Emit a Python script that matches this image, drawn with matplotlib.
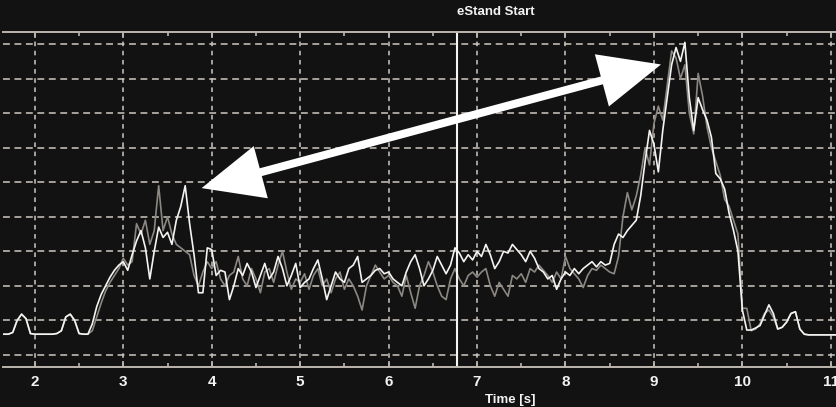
import numpy as np
import matplotlib
matplotlib.use("Agg")
import matplotlib.pyplot as plt
from matplotlib.patches import FancyArrowPatch
from matplotlib.ticker import MultipleLocator

# ---- data (sampled every 0.05 s starting at 1.65 s) ----
t_start = 1.65
dt = 0.05

white_trace = [
    0.60, 0.60, 0.65, 1.00, 1.18, 1.05, 0.62, 0.60, 0.60, 0.60,
    0.60, 0.60, 0.62, 0.70, 1.10, 1.18, 1.00, 0.62, 0.60, 0.60,
    0.90, 1.40, 1.75, 2.00, 2.25, 2.45, 2.60, 2.70, 2.45, 2.90,
    3.30, 3.60, 3.10, 2.20, 3.00, 3.70, 3.40, 3.55, 3.20, 3.90,
    4.30, 4.90, 3.80, 2.90, 1.80, 1.80, 3.10, 3.05, 2.30, 2.45,
    2.40, 1.60, 2.00, 2.50, 2.30, 2.65, 2.40, 1.95, 2.30, 2.65,
    2.20, 2.40, 2.85, 2.50, 2.00, 2.30, 2.65, 1.95, 2.10, 2.20,
    2.50, 2.75, 2.20, 1.60, 2.00, 2.40, 2.20, 2.10, 2.50, 2.60,
    2.85, 2.10, 2.20, 2.30, 2.45, 2.50, 2.35, 2.40, 2.20, 2.10,
    2.00, 2.40, 2.70, 2.90, 2.50, 2.00, 2.20, 2.45, 2.85, 2.60,
    2.35, 2.60, 3.10, 2.95, 2.70, 2.90, 2.75, 3.00, 2.85, 3.20,
    2.90, 2.50, 2.70, 3.00, 2.95, 3.20, 3.05, 2.90, 2.70, 3.00,
    2.80, 2.50, 2.40, 2.20, 2.30, 1.90, 2.20, 2.40, 2.30, 2.50,
    2.35, 2.50, 2.60, 2.70, 2.55, 2.70, 2.60, 2.65, 3.20, 3.50,
    3.40, 3.60, 3.75, 3.90, 4.60, 5.60, 6.50, 6.10, 5.30, 6.50,
    7.45, 8.40, 8.90, 8.50, 9.05, 7.45, 6.50, 7.45, 7.10, 6.80,
    6.30, 5.25, 5.10, 4.80, 4.10, 3.60, 3.00, 1.30, 0.72, 0.72,
    0.78, 0.85, 1.15, 1.45, 1.20, 0.75, 0.80, 0.95, 1.20, 1.25,
    0.75, 0.60, 0.58, 0.58, 0.58, 0.58, 0.58, 0.58, 0.58, 0.58,
]

gray_trace = [
    0.60, 0.60, 0.65, 1.00, 1.18, 1.05, 0.62, 0.60, 0.60, 0.60,
    0.60, 0.60, 0.62, 0.70, 1.10, 1.18, 1.00, 0.62, 0.60, 0.60,
    0.70, 1.10, 1.50, 1.85, 2.10, 2.30, 2.50, 2.80, 2.60, 2.70,
    3.80, 3.50, 3.90, 3.20, 3.60, 4.90, 3.60, 4.00, 3.50, 3.20,
    3.10, 3.00, 2.90, 2.30, 2.00, 2.40, 2.70, 2.50, 2.70, 2.20,
    2.00, 2.30, 2.40, 2.85, 2.20, 2.00, 2.50, 2.20, 1.80, 2.40,
    2.50, 2.10, 2.60, 3.00, 2.40, 1.90, 2.20, 2.10, 2.35, 1.90,
    2.30, 2.50, 2.00, 2.20, 1.80, 2.20, 2.40, 1.90, 2.20, 2.00,
    1.70, 1.30, 2.00, 2.30, 2.60, 2.40, 2.20, 2.30, 2.10, 2.00,
    1.70, 2.30, 1.80, 1.35, 2.00, 2.30, 2.70, 2.40, 2.00, 1.70,
    1.60, 2.20, 2.50, 2.20, 2.00, 2.30, 2.40, 2.25, 2.40, 2.50,
    2.00, 1.70, 2.10, 1.90, 1.70, 2.30, 2.20, 2.35, 2.10, 2.50,
    2.40, 2.60, 2.45, 2.30, 2.10, 2.40, 2.20, 2.85, 2.50, 2.35,
    2.20, 1.95, 2.30, 2.50, 2.45, 2.60, 2.50, 2.40, 2.35, 2.85,
    4.00, 4.70, 4.20, 4.60, 5.20, 6.00, 5.50, 6.70, 7.20, 6.80,
    7.80, 8.80, 8.60, 8.00, 8.40, 7.00, 6.40, 8.15, 7.50, 6.60,
    6.00, 5.60, 5.20, 4.50, 4.30, 3.90, 3.50, 1.35, 1.35, 0.70,
    0.75, 0.90, 1.20, 1.30, 1.10, 0.75, 0.80, 0.95, 1.20, 1.25,
    0.75, 0.60, 0.58, 0.58, 0.58, 0.58, 0.58, 0.58, 0.58, 0.58,
]

time = t_start + dt * np.arange(len(white_trace))

x_ticks = [2, 3, 4, 5, 6, 7, 8, 9, 10, 11]
x_ticklabels = ["2", "3", "4", "5", "6", "7", "8", "9", "10", "11"]
y_grid = [0, 1, 2, 3, 4, 5, 6, 7, 8, 9]

estand_time = 6.77
arrow_left = (3.886, 4.83)
arrow_right = (9.08, 8.41)

xlim = (1.64, 11.07)
ylim = (-0.35, 9.35)

# ---- figure ----
BG = "#111211"
GRID = "#cfc8c0"
FG = "#f2f2f2"

plt.rcParams["font.family"] = ["Liberation Sans", "DejaVu Sans"]

fig = plt.figure(figsize=(8.37, 4.07), dpi=100, facecolor=BG)
ax = fig.add_axes([3 / 837, 40 / 407, 834 / 837, 335 / 407], facecolor=BG)

ax.set_xlim(*xlim)
ax.set_ylim(*ylim)

# grid
for yv in y_grid:
    ax.axhline(yv, color=GRID, lw=1.1, ls=(0, (4.5, 3)), zorder=1)
for xv in x_ticks:
    ax.axvline(xv, color=GRID, lw=1.1, ls=(0, (3, 3)), zorder=1)

# traces
ax.plot(time, gray_trace, color="#8c8782", lw=1.2, zorder=3)
ax.plot(time, white_trace, color="#f4f4f2", lw=1.2, zorder=4)

# eStand start marker
ax.axvline(estand_time, color="#f4f4f4", lw=1.5, zorder=5)
ax.text(estand_time, 1.0 + 20 / 335, "eStand Start", transform=ax.get_xaxis_transform(),
        ha="left", va="center", color=FG, fontsize=9.5, fontweight="bold")

# double-headed arrow
arr = FancyArrowPatch(arrow_left, arrow_right,
                      arrowstyle="<|-|>,head_length=34,head_width=15",
                      mutation_scale=1, lw=5.8, color="white",
                      shrinkA=0, shrinkB=0, joinstyle="miter", capstyle="butt",
                      zorder=6)
ax.add_patch(arr)

# axes styling
for s in ["left", "right"]:
    ax.spines[s].set_visible(False)
for s in ["top", "bottom"]:
    ax.spines[s].set_color("#bdb6ae")
    ax.spines[s].set_linewidth(1.4)
    ax.spines[s].set_zorder(7)

ax.set_xticks(x_ticks)
ax.set_xticklabels(x_ticklabels)
ax.xaxis.set_minor_locator(MultipleLocator(0.5))
ax.tick_params(axis="x", which="both", direction="in", top=True, bottom=True,
               color="#bdb6ae", labelcolor=FG, labelsize=11, pad=5.5)
ax.tick_params(axis="x", which="major", length=4, width=1.2)
ax.tick_params(axis="x", which="minor", length=3, width=1.2)
for lab in ax.get_xticklabels():
    lab.set_fontweight("bold")
ax.set_yticks([])

ax.text(0.6085, -0.0985, "Time [s]", transform=ax.transAxes,
        ha="center", va="center", color=FG, fontsize=9.5, fontweight="bold")

fig.savefig("out.png", dpi=100, facecolor=BG)
